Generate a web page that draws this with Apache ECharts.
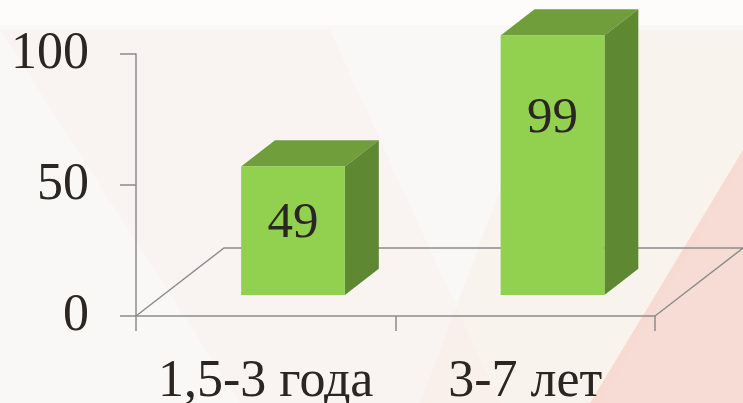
<!DOCTYPE html>
<html>
<head>
<meta charset="utf-8">
<script src="https://cdn.jsdelivr.net/npm/echarts@6/dist/echarts.min.js"></script>
<style>
  html, body { margin: 0; padding: 0; background: #f9f8f6; }
  #chart { width: 743px; height: 403px; }
</style>
</head>
<body>
<div id="chart"></div>
<script>
// данные
var categories = ['1,5-3 года', '3-7 лет'];
var values = [49, 99];
var yTicks = [0, 50, 100];

var serif = 'Liberation Serif';
var textColor = '#2b2621';
var axisColor = '#8c8c8c';

// перспектива пола
var FLOOR_DX = 88, FLOOR_DY = -68;
var BAR_FRONT = 0.31, BAR_DEPTH = 0.385, BAR_W = 0.4;

var myChart = echarts.init(document.getElementById('chart'));

function renderFloor(params, api) {
    var cs = params.coordSys;
    var x0 = cs.x, x1 = cs.x + cs.width, y0 = cs.y + cs.height;
    return {
        type: 'polyline',
        shape: { points: [
            [x0, y0], [x0 + FLOOR_DX, y0 + FLOOR_DY],
            [x1 + FLOOR_DX, y0 + FLOOR_DY], [x1, y0]
        ] },
        style: { stroke: axisColor, lineWidth: 1.5, fill: null }
    };
}

function renderBox(params, api) {
    var idx = api.value(0), val = api.value(1);
    var base = api.coord([idx, 0]);
    var top = api.coord([idx, val]);
    var catW = api.size([1, 0])[0];
    var w = catW * BAR_W;
    var ox = FLOOR_DX * BAR_FRONT, oy = FLOOR_DY * BAR_FRONT;
    var bx = FLOOR_DX * BAR_DEPTH, by = FLOOR_DY * BAR_DEPTH;
    var xl = base[0] + ox - w / 2, xr = xl + w;
    var yb = base[1] + oy, yt = top[1] + oy;
    var h = yb - yt;
    return {
        type: 'group',
        children: [
            { type: 'polygon', shape: { points: [[xl, yt], [xr, yt], [xr + bx, yt + by], [xl + bx, yt + by]] },
              style: { fill: '#709e3b' } },
            { type: 'polygon', shape: { points: [[xr, yt], [xr + bx, yt + by], [xr + bx, yb + by], [xr, yb]] },
              style: { fill: '#5f8832' } },
            { type: 'rect', shape: { x: xl, y: yt, width: w, height: h },
              style: { fill: '#92d050' } },
            { type: 'text', x: xl + w / 2, y: yt + 31 + 0.2 * h,
              style: { text: String(val), fill: textColor, fontFamily: serif, fontSize: 51,
                       align: 'center', verticalAlign: 'middle' } }
        ]
    };
}

var option = {
    backgroundColor: '#f9f8f6',
    graphic: [
        { type: 'polygon', silent: true, z: -10,
          shape: { points: [[0, 30], [330, 30], [500, 403], [240, 403]] },
          style: { fill: 'rgba(248,220,220,0.15)' } },
        { type: 'polygon', silent: true, z: -10,
          shape: { points: [[0, 0], [743, 0], [743, 25], [0, 25]] },
          style: { fill: 'rgba(255,255,255,0.6)' } },
        { type: 'polygon', silent: true, z: -10,
          shape: { points: [[560, 30], [743, 30], [743, 160], [600, 403], [420, 403]] },
          style: { fill: 'rgba(250,232,218,0.3)' } },
        { type: 'polygon', silent: true, z: -9,
          shape: { points: [[743, 150], [743, 403], [590, 403]] },
          style: { fill: 'rgba(246,208,200,0.7)' } }
    ],
    grid: { left: 136, top: 54, width: 519, height: 262, containLabel: false, outerBoundsMode: 'none' },
    xAxis: {
        type: 'category',
        data: categories,
        boundaryGap: true,
        axisLine: { show: true, lineStyle: { color: axisColor, width: 1.5 } },
        axisTick: { show: true, length: 15, lineStyle: { color: axisColor, width: 1.5 } },
        axisLabel: { interval: 0, color: textColor, fontFamily: serif, fontSize: 52, margin: 40 },
        splitLine: { show: false }
    },
    yAxis: {
        type: 'value',
        min: yTicks[0],
        max: yTicks[yTicks.length - 1],
        interval: yTicks[1] - yTicks[0],
        axisLine: { show: true, lineStyle: { color: axisColor, width: 1.5 } },
        axisTick: { show: true, length: 16, lineStyle: { color: axisColor, width: 1.5 } },
        axisLabel: { color: textColor, fontFamily: serif, fontSize: 52, margin: 47 },
        splitLine: { show: false }
    },
    series: [
        {
            type: 'custom',
            name: 'floor',
            renderItem: renderFloor,
            data: [[0, 0]],
            silent: true,
            z: 1
        },
        {
            type: 'custom',
            name: 'values',
            renderItem: renderBox,
            data: values.map(function (v, i) { return [i, v]; }),
            z: 2
        }
    ]
};

myChart.setOption(option);
</script>
</body>
</html>
